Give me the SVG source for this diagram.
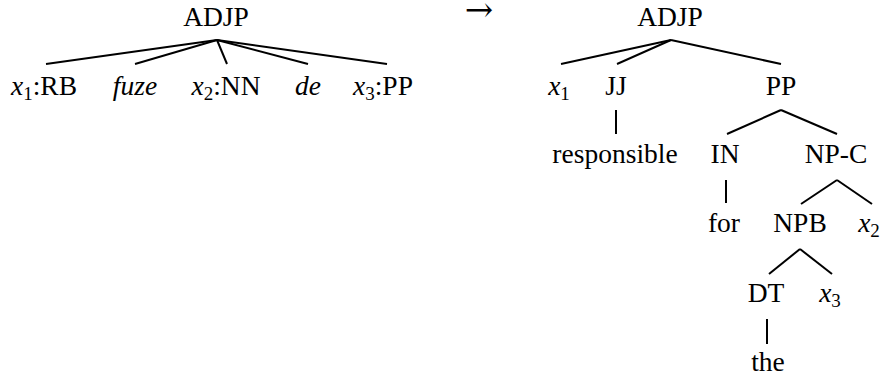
<svg xmlns="http://www.w3.org/2000/svg" width="884" height="379" viewBox="0 0 884 379">
<style>
text{font-size:27.5px;fill:#000;text-anchor:middle}
.i{font-style:italic}
.s{font-size:19px;font-style:normal}
.a{font-size:34px}
.e line{stroke:#000;stroke-width:2;stroke-linecap:butt}
</style>
<rect width="884" height="379" fill="#fff"/>
<g class="e" id="connectors">
<line x1="217" y1="40" x2="46" y2="64"/>
<line x1="217" y1="40" x2="135" y2="64"/>
<line x1="217" y1="40" x2="227" y2="64"/>
<line x1="217" y1="40" x2="308" y2="64"/>
<line x1="217" y1="40" x2="387" y2="64"/>
<line x1="671" y1="40" x2="561" y2="64"/>
<line x1="671" y1="40" x2="617" y2="64"/>
<line x1="671" y1="40" x2="781" y2="64"/>
<line x1="616" y1="110" x2="616" y2="134"/>
<line x1="781" y1="110" x2="727" y2="134"/>
<line x1="781" y1="110" x2="837" y2="134"/>
<line x1="726" y1="180" x2="726" y2="203"/>
<line x1="837" y1="180" x2="801" y2="204"/>
<line x1="837" y1="180" x2="872" y2="204"/>
<line x1="800" y1="249" x2="769" y2="274"/>
<line x1="800" y1="249" x2="832" y2="274"/>
<line x1="767" y1="319" x2="767" y2="344"/>
</g>
<g id="arrow" font-family="DejaVu Serif, serif"><text x="479" y="21" class="a">→</text></g>
<g font-family="Liberation Serif, serif">
<g id="src-ADJP"><text x="216" y="26">ADJP</text></g>
<g id="src-x1RB"><text x="44" y="95"><tspan class="i">x</tspan><tspan class="s" dy="5">1</tspan><tspan dy="-5">:RB</tspan></text></g>
<g id="src-fuze"><text x="135" y="95" class="i">fuze</text></g>
<g id="src-x2NN"><text x="226" y="95"><tspan class="i">x</tspan><tspan class="s" dy="5">2</tspan><tspan dy="-5">:NN</tspan></text></g>
<g id="src-de"><text x="308" y="95" class="i">de</text></g>
<g id="src-x3PP"><text x="383" y="95"><tspan class="i">x</tspan><tspan class="s" dy="5">3</tspan><tspan dy="-5">:PP</tspan></text></g>
<g id="tgt-ADJP"><text x="670" y="26">ADJP</text></g>
<g id="tgt-x1"><text x="559" y="95"><tspan class="i">x</tspan><tspan class="s" dy="5">1</tspan></text></g>
<g id="tgt-JJ"><text x="616" y="95">JJ</text></g>
<g id="tgt-PP"><text x="781" y="95">PP</text></g>
<g id="tgt-responsible"><text x="615" y="163">responsible</text></g>
<g id="tgt-IN"><text x="725" y="163">IN</text></g>
<g id="tgt-NPC"><text x="836" y="163">NP-C</text></g>
<g id="tgt-for"><text x="724" y="232">for</text></g>
<g id="tgt-NPB"><text x="800" y="232">NPB</text></g>
<g id="tgt-x2"><text x="869" y="232"><tspan class="i">x</tspan><tspan class="s" dy="5">2</tspan></text></g>
<g id="tgt-DT"><text x="766" y="302">DT</text></g>
<g id="tgt-x3"><text x="830" y="302"><tspan class="i">x</tspan><tspan class="s" dy="5">3</tspan></text></g>
<g id="tgt-the"><text x="768" y="371">the</text></g>
</g>
</svg>
